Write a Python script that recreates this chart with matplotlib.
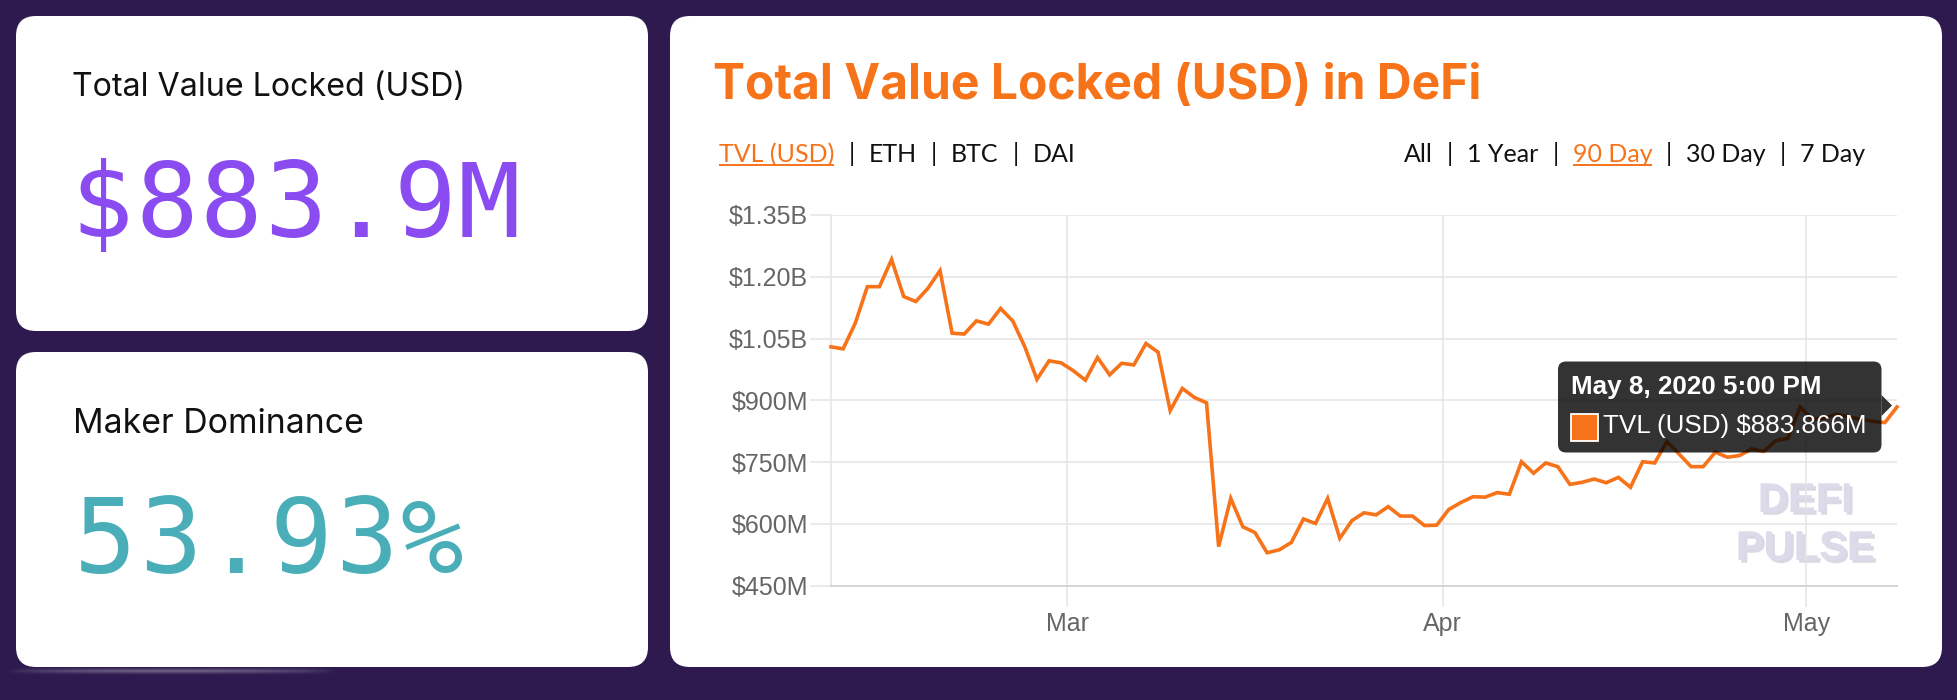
import numpy as np
import pandas as pd
import matplotlib
matplotlib.use('Agg')
import matplotlib.pyplot as plt
import matplotlib.patheffects as pe
from matplotlib.patches import FancyBboxPatch, Rectangle, Polygon

# ---- data ($M, daily) ----
start_day = '2020-02-10 12:00'
tvl = [1030, 1025, 1087, 1176, 1176, 1242, 1152, 1140, 1172, 1215,
       1063, 1061, 1093, 1085, 1123, 1093, 1030, 951, 996, 991,
       972, 949, 1004, 962, 990, 986, 1038, 1017, 875, 929,
       907, 894, 545, 662, 593, 579, 530, 537, 555, 612,
       601, 662, 565, 608, 627, 622, 642, 619, 619, 596,
       597, 635, 652, 666, 665, 676, 672, 751, 723, 748,
       739, 696, 701, 709, 700, 713, 689, 751, 748, 800,
       770, 739, 739, 774, 762, 766, 782, 776, 802, 808,
       884, 854, 857, 866, 860, 854, 849, 846, 883.866]
dates = pd.date_range(start_day, periods=len(tvl), freq='D')

yticks = [450, 600, 750, 900, 1050, 1200, 1350]
ytick_labels = ['$450M', '$600M', '$750M', '$900M', '$1.05B', '$1.20B', '$1.35B']
xticks = pd.to_datetime(['2020-03-01', '2020-04-01', '2020-05-01'])
xtick_labels = ['Mar', 'Apr', 'May']

tvl_card = '$883.9M'
maker_card = '53.93%'
links_left = [('TVL (USD)', True), ('|', False), ('ETH', False), ('|', False),
              ('BTC', False), ('|', False), ('DAI', False)]
links_right = [('All', False), ('|', False), ('1 Year', False), ('|', False),
               ('90 Day', True), ('|', False), ('30 Day', False), ('|', False),
               ('7 Day', False)]
tip_title = 'May 8, 2020 5:00 PM'
tip_body = 'TVL (USD) $883.866M'

BG = '#2e1a4f'
ORANGE = '#f7731a'
PURPLE = '#8a4cf0'
TEAL = '#4aaeb9'
GRID = '#e4e4e4'

W, H = 1958, 700
fig = plt.figure(figsize=(W / 100, H / 100), dpi=100, facecolor=BG)

# pixel-space background axes
bg = fig.add_axes([0, 0, 1, 1])
bg.set_xlim(0, W)
bg.set_ylim(H, 0)
bg.axis('off')

for (x, y, w, h) in [(16, 16, 632, 315), (16, 352, 632, 315), (670, 16, 1272, 651)]:
    bg.add_patch(FancyBboxPatch((x, y), w, h, boxstyle='round,pad=0,rounding_size=20',
                                fc='white', ec='none'))

# faint glow under the lower card
gx = np.linspace(0, 1, 200)
gy = np.linspace(-1, 1, 12)
alpha = (np.exp(-(gy[:, None] / 0.5) ** 2) * np.clip(np.sin(np.pi * gx[None, :]), 0, 1) ** 0.6) * 0.3
glow = np.zeros((len(gy), len(gx), 4))
glow[..., :3] = 1.0
glow[..., 3] = alpha
bg.imshow(glow, extent=(8, 335, 676, 666), aspect='auto', interpolation='bilinear', zorder=0)
bg.set_xlim(0, W)
bg.set_ylim(H, 0)

renderer = fig.canvas.get_renderer()


def fit_text(x, y, s, width, **kw):
    # size the text so that it spans the given width in pixels
    t = bg.text(x, y, s, va='baseline', **kw)
    w = t.get_window_extent(renderer).width
    t.set_fontsize(t.get_fontsize() * width / w)
    return t


def mono_text(x0, y, s, pitch, **kw):
    for i, ch in enumerate(s):
        bg.text(x0 + pitch * (i + 0.5), y, ch, ha='center', va='baseline', **kw)


# card texts
fit_text(72, 96.5, 'Total Value Locked (USD)', 392, family='Inter', fontsize=21.5,
         color='#111111')
mono_text(70, 237, tvl_card, 64.5, family='DejaVu Sans Mono', fontsize=75, color=PURPLE)
fit_text(73, 433, 'Maker Dominance', 290, family='Inter', fontsize=21.5, color='#111111')
mono_text(72, 573, maker_card, 65.5, family='DejaVu Sans Mono', fontsize=75, color=TEAL)

fit_text(713, 98.5, 'Total Value Locked (USD) in DeFi', 769, family='Inter',
         fontweight='bold', fontsize=33, color=ORANGE)


def draw_links(x0, y, items, gap=14):
    x = x0
    for txt, active in items:
        t = bg.text(x, y, txt, family='Lato', fontsize=18, va='baseline',
                    color=ORANGE if active else '#111111')
        w = t.get_window_extent(renderer).width
        if active:
            bg.plot([x, x + w], [y + 2.8, y + 2.8], color=ORANGE, lw=1.4,
                    solid_capstyle='butt')
        x += w + gap


draw_links(719, 162.5, links_left)
draw_links(1404, 162.5, links_right)

# watermark
for word, yb in [('DEFI', 512), ('PULSE', 560)]:
    bg.text(1805, yb, word, family='Liberation Sans', fontweight='bold', fontsize=30,
            color='#dedae9', ha='center', va='baseline', zorder=1,
            path_effects=[pe.withSimplePatchShadow(offset=(2, -2), shadow_rgbFace='#c4bfd4',
                                                   alpha=0.6)])

# ---- the chart ----
left, right, top, bottom = 831, 1897, 215, 585.7
ax = fig.add_axes([left / W, (H - bottom) / H, (right - left) / W, (bottom - top) / H], zorder=2)
ax.set_facecolor('none')
ax.plot(dates, tvl, color=ORANGE, lw=2.6, solid_joinstyle='miter', zorder=3, clip_on=False)
ax.set_xlim(dates[0], dates[-1])
ax.set_ylim(450, 1350)
ax.set_yticks(yticks)
ax.set_yticklabels(ytick_labels)
ax.set_xticks(xticks)
ax.set_xticklabels(xtick_labels)
ax.grid(True, color=GRID, lw=1.1)
for side in ['top', 'right']:
    ax.spines[side].set_visible(False)
ax.spines['left'].set_color(GRID)
ax.spines['left'].set_linewidth(1.1)
ax.spines['bottom'].set_color('#d2d2d2')
ax.spines['bottom'].set_linewidth(1.3)
ax.tick_params(axis='both', length=15, width=1.1, color=GRID, labelcolor='#666666')
ax.tick_params(axis='y', pad=1.5)
ax.tick_params(axis='x', pad=4)
for lab in ax.get_xticklabels() + ax.get_yticklabels():
    lab.set_family('Liberation Sans')
    lab.set_fontsize(18)

# ---- tooltip overlay ----
ov = fig.add_axes([0, 0, 1, 1], zorder=3)
ov.set_xlim(0, W)
ov.set_ylim(H, 0)
ov.axis('off')
ov.set_facecolor('none')
tip_bg = (0, 0, 0, 0.8)
ov.add_patch(FancyBboxPatch((1558, 361.5), 323.5, 91, boxstyle='round,pad=0,rounding_size=8',
                            fc=tip_bg, ec='none'))
ov.add_patch(Polygon([(1881.5, 395), (1892, 405.5), (1881.5, 416)], closed=True,
                     fc=tip_bg, ec='none'))
ov.add_patch(Rectangle((1571, 413.5), 27, 27, fc=ORANGE, ec='white', lw=1.3))
ov.text(1571.5, 394.3, tip_title, family='Liberation Sans', fontweight='bold',
        fontsize=18.7, color='white', va='baseline')
ov.text(1603, 433.3, tip_body, family='Liberation Sans', fontsize=18.7,
        color='white', va='baseline')

fig.savefig('out.png', dpi=100, facecolor=BG)
